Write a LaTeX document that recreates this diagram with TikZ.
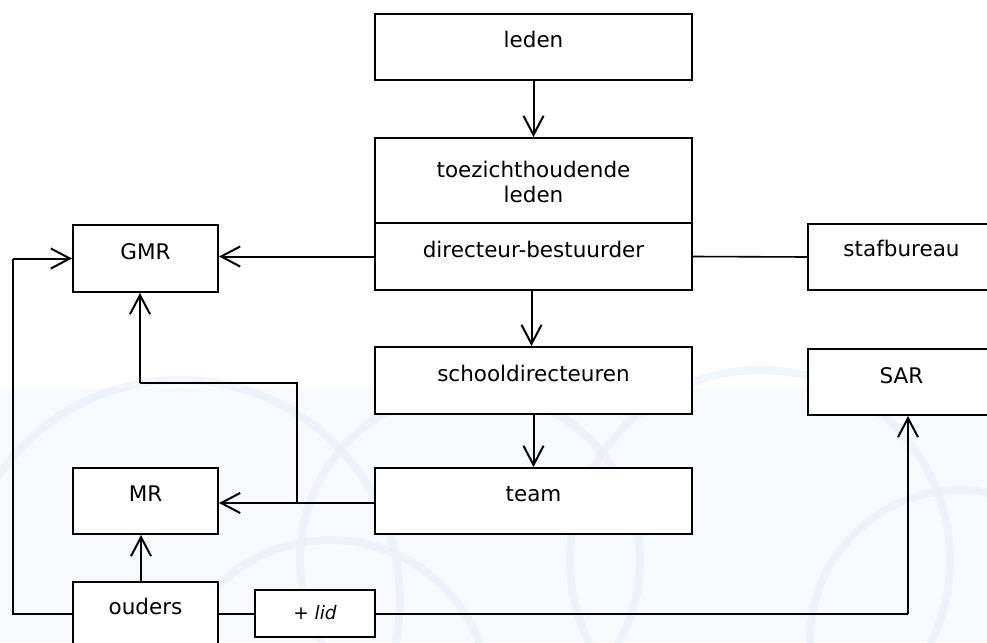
\documentclass[tikz,border=0pt]{standalone}
\usepackage{fontspec}
\setmainfont{DejaVu Sans}
\usetikzlibrary{arrows.meta}
\definecolor{bgtint}{RGB}{248,249,252}
\definecolor{bubble}{RGB}{234,240,248}
\tikzset{
  box/.style={draw=black, line width=2pt, fill=white, inner sep=0pt},
  txt/.style={anchor=base, inner sep=0pt, font=\fontsize{21.5}{25}\selectfont},
  conn/.style={line width=2pt},
  thinconn/.style={line width=1.6pt},
  arr/.style={line width=2pt, -{Straight Barb[length=19pt,width=20pt,line width=2pt]}},
}
\begin{document}
\begin{tikzpicture}[x=1pt,y=-1pt]
\useasboundingbox (0,0) rectangle (987,642);
\clip (0,0) rectangle (987,642);
% faint background
\fill[white] (0,0) rectangle (987,642);
\fill[bgtint] (0,388) rectangle (987,642);
\begin{scope}[bubble, line width=8pt, opacity=0.6]
  \draw (180,600) circle (220);
  \draw (470,560) circle (170);
  \draw (760,560) circle (190);
  \draw (960,640) circle (150);
  \draw (330,700) circle (160);
\end{scope}
% boxes
\node[box, minimum width=317pt, minimum height=66pt] (leden) at (533.5,47) {};
\node[box, minimum width=317pt, minimum height=85pt] (toez) at (533.5,180.5) {};
\node[box, minimum width=317pt, minimum height=67pt] (dir) at (533.5,256.5) {};
\node[box, minimum width=187pt, minimum height=66pt] (staf) at (901.5,257) {};
\node[box, minimum width=145pt, minimum height=67pt] (gmr) at (145.5,258.5) {};
\node[box, minimum width=317pt, minimum height=67pt] (school) at (533.5,380.5) {};
\node[box, minimum width=187pt, minimum height=66pt] (sar) at (901.5,382) {};
\node[box, minimum width=145pt, minimum height=66pt] (mr) at (145.5,501) {};
\node[box, minimum width=317pt, minimum height=66pt] (team) at (533.5,501) {};
\node[box, minimum width=145pt, minimum height=68pt] (ouders) at (145.5,616) {};
\node[box, minimum width=120pt, minimum height=47pt] (lid) at (315,613.5) {};
% texts
\node[txt] at ([yshift=-35pt]leden.north) {leden};
\node[txt] at ([yshift=-40pt]toez.north) {toezichthoudende};
\node[txt] at ([yshift=-65pt]toez.north) {leden};
\node[txt] at ([yshift=-35pt]dir.north) {directeur-bestuurder};
\node[txt] at ([yshift=-33pt]staf.north) {stafbureau};
\node[txt] at ([yshift=-35pt]gmr.north) {GMR};
\node[txt] at ([yshift=-35pt]school.north) {schooldirecteuren};
\node[txt] at ([yshift=-35pt]sar.north) {SAR};
\node[txt] at ([yshift=-34pt]mr.north) {MR};
\node[txt] at ([yshift=-34pt]team.north) {team};
\node[txt] at ([yshift=-33pt]ouders.north) {ouders};
\node[txt, font=\fontsize{18.5}{22}\selectfont\itshape] at ([yshift=-30pt]lid.north) {+ lid};
% connectors
\draw[arr] (leden.south) -- (toez.north);
\draw[arr] ([xshift=-2pt]dir.south) -- ([xshift=-2pt]school.north);
\draw[arr] (school.south) -- (team.north);
\draw[arr] (dir.west) -- (dir.west -| gmr.east);
\draw[thinconn] (dir.east) -- (staf.west);
\coordinate (j1) at (297,503);
\coordinate (j2) at (297,383);
\coordinate (j3) at (140,383);
\draw[arr] (team.west |- j1) -- (mr.east |- j1);
\draw[conn] (j1) -- (j2) -- (j3);
\draw[arr] (j3) -- (j3 |- gmr.south);
\draw[arr] ([xshift=-4.5pt]ouders.north) -- ([xshift=-4.5pt]mr.south);
\coordinate (lft) at (13,614);
\draw[conn] (ouders.west |- lft) -- (lft) -- (lft |- gmr.west);
\draw[arr] (lft |- gmr.west) -- (gmr.west);
\draw[thinconn] (ouders.east |- lft) -- (lid.west |- lft);
\coordinate (sarx) at (908,614);
\draw[conn] (lid.east |- lft) -- (sarx);
\draw[arr] (sarx) -- (sarx |- sar.south);
\end{tikzpicture}
\end{document}
